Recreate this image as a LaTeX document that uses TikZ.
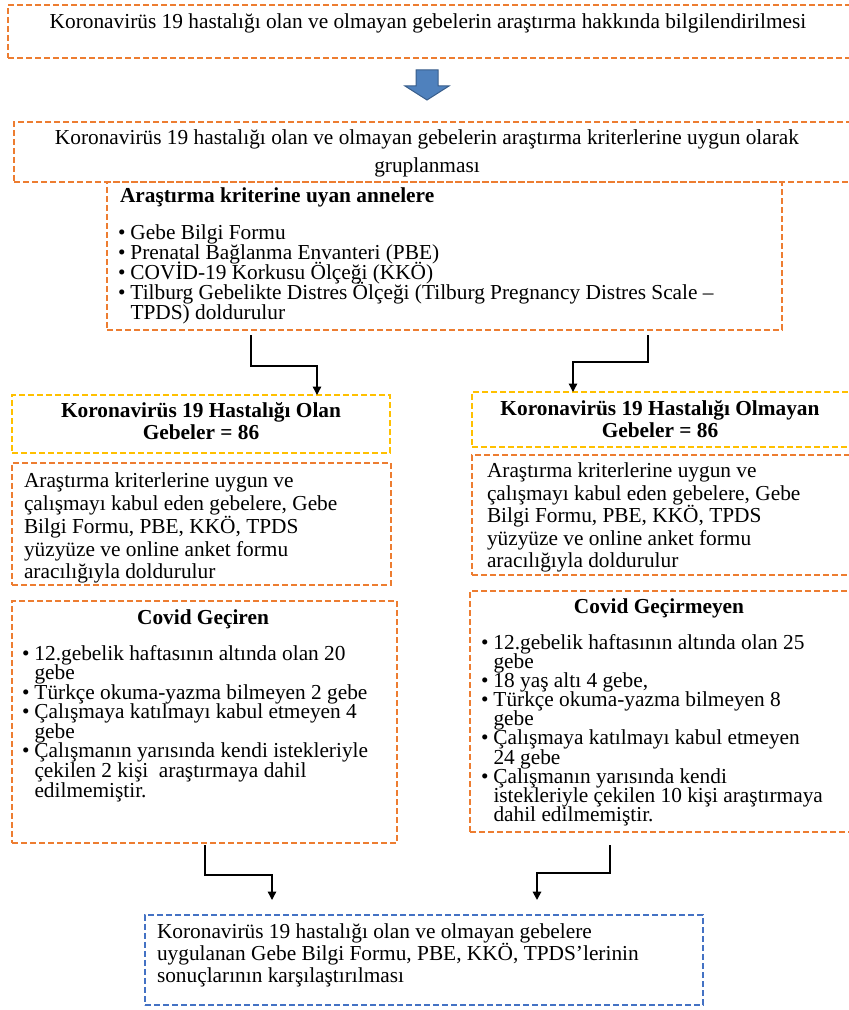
\documentclass[tikz,border=0pt]{standalone}
\usepackage{fontspec}
\setmainfont{Liberation Serif}
\usetikzlibrary{fit,arrows.meta}
\definecolor{oc}{RGB}{237,125,49}
\definecolor{yc}{RGB}{255,192,0}
\definecolor{bc}{RGB}{68,114,196}
\definecolor{af}{RGB}{79,129,189}
\definecolor{ad}{RGB}{56,93,138}
\newcommand\bl{\makebox[7.5pt][l]{•}}
\newcommand\ind{\hspace*{7.5pt}}
\newcommand\fsz[1]{\fontsize{12.8}{#1}\selectfont\lineskiplimit=-30pt\lineskip=0pt\relax}
\begin{document}
\begin{tikzpicture}[x=0.6pt,y=-0.6pt,
  boxbase/.style={rectangle,inner sep=0pt,outer sep=0pt,line width=0.9pt,dash pattern=on 3.6pt off 1.8pt},
  obox/.style={boxbase,draw=oc},
  ybox/.style={boxbase,draw=yc},
  bbox/.style={boxbase,draw=bc},
  txt/.style={inner sep=0pt,outer sep=0pt,font=\fsz{13.5}},
  conn/.style={draw=black,line width=0.8pt,-{Triangle[length=5pt,width=5pt]}}]
\useasboundingbox (0,0) rectangle (849,1010);
\clip (0,0) rectangle (849,1010);

% box 1
\node[obox,fit={(8,5) (853,58)}] (b1) {};
\node[txt,anchor=north] (t1) at (428,13) {\strut Koronavirüs 19 hastalığı olan ve olmayan gebelerin araştırma hakkında bilgilendirilmesi};

% block arrow
\filldraw[fill=af,draw=ad,line width=0.6pt] (416,70) -- (438,70) -- (438,86) -- (449,86) -- (427,100) -- (405,86) -- (416,86) -- cycle;

% box 2
\node[obox,fit={(14,122) (853,182)}] (b2) {};
\node[txt,anchor=north,align=center,font=\fsz{16.8}] (t2) at (427,125) {\strut Koronavirüs 19 hastalığı olan ve olmayan gebelerin araştırma kriterlerine uygun olarak\\gruplanması};

% box 3
\node[obox,fit={(107,182) (782,330)}] (b3) {};
\node[txt,anchor=north west] (t3a) at (120,187) {\strut\bfseries Araştırma kriterine uyan annelere};
\node[txt,anchor=north west,align=left,font=\fsz{12}] (t3b) at (118,225) {\strut\bl Gebe Bilgi Formu\\
\bl Prenatal Bağlanma Envanteri (PBE)\\
\bl COVİD-19 Korkusu Ölçeği (KKÖ)\\
\bl Tilburg Gebelikte Distres Ölçeği (Tilburg Pregnancy Distres Scale –\\
\ind TPDS) doldurulur};

% yellow boxes
\node[ybox,fit={(12,395) (390,453)}] (yl) {};
\node[txt,anchor=north,align=center,font=\fsz{13.2}\bfseries] (tyl) at (201,402) {\strut Koronavirüs 19 Hastalığı Olan\\Gebeler = 86};
\node[ybox,fit={(472,392) (853,447)}] (yr) {};
\node[txt,anchor=north,align=center,font=\fsz{13.2}\bfseries] (tyr) at (660,400) {\strut Koronavirüs 19 Hastalığı Olmayan\\Gebeler = 86};

% connectors from box 3
\coordinate (s1) at (251,335);
\coordinate (m1) at (317,366);
\coordinate (s2) at (648,335);
\coordinate (m2) at (573,362);
\draw[conn] (s1) |- (m1) -- (m1 |- yl.north);
\draw[conn] (s2) |- (m2) -- (m2 |- yr.north);

% orange info boxes
\node[obox,fit={(12,463) (391,585)}] (ol) {};
\node[txt,anchor=north west,align=left,font=\fsz{13.65}] (tol) at (24,472) {\strut Araştırma kriterlerine uygun ve\\çalışmayı kabul eden gebelere, Gebe\\Bilgi Formu, PBE, KKÖ, TPDS\\yüzyüze ve online anket formu\\aracılığıyla doldurulur};
\node[obox,fit={(472,455) (853,575)}] (or) {};
\node[txt,anchor=north west,align=left,font=\fsz{13.5}] (tor) at (487,462) {\strut Araştırma kriterlerine uygun ve\\çalışmayı kabul eden gebelere, Gebe\\Bilgi Formu, PBE, KKÖ, TPDS\\yüzyüze ve online anket formu\\aracılığıyla doldurulur};

% covid boxes
\node[obox,fit={(12,601) (397,843)}] (cl) {};
\node[txt,anchor=north,font=\fsz{13.5}\bfseries] (tcl) at (203,609) {\strut Covid Geçiren};
\node[txt,anchor=north west,align=left,font=\fsz{11.75}] (lcl) at (22,645) {\strut\bl 12.gebelik haftasının altında olan 20\\
\ind gebe\\
\bl Türkçe okuma-yazma bilmeyen 2 gebe\\
\bl Çalışmaya katılmayı kabul etmeyen 4\\
\ind gebe\\
\bl Çalışmanın yarısında kendi istekleriyle\\
\ind çekilen 2 kişi\ \ araştırmaya dahil\\
\ind edilmemiştir.};
\node[obox,fit={(470,591) (853,832)}] (cr) {};
\node[txt,anchor=north,font=\fsz{13.5}\bfseries] (tcr) at (659,598) {\strut Covid Geçirmeyen};
\node[txt,anchor=north west,align=left,font=\fsz{11.5}] (lcr) at (481,634) {\strut\bl 12.gebelik haftasının altında olan 25\\
\ind gebe\\
\bl 18 yaş altı 4 gebe,\\
\bl Türkçe okuma-yazma bilmeyen 8\\
\ind gebe\\
\bl Çalışmaya katılmayı kabul etmeyen\\
\ind 24 gebe\\
\bl Çalışmanın yarısında kendi\\
\ind istekleriyle çekilen 10 kişi araştırmaya\\
\ind dahil edilmemiştir.};

% bottom box
\node[bbox,fit={(145,915) (703,1005)}] (bb) {};
\node[txt,anchor=north west,align=left,font=\fsz{13.2}] (tbb) at (157,923) {\strut Koronavirüs 19 hastalığı olan ve olmayan gebelere\\uygulanan Gebe Bilgi Formu, PBE, KKÖ, TPDS’lerinin\\sonuçlarının karşılaştırılması};

% bottom connectors
\coordinate (s3) at (205,845);
\coordinate (m3) at (272,875);
\coordinate (e3) at (272,900);
\coordinate (s4) at (610,845);
\coordinate (m4) at (537,873);
\coordinate (e4) at (537,900);
\draw[conn] (s3) |- (m3) -- (e3);
\draw[conn,line width=1.1pt] (s4) |- (m4) -- (e4);
\end{tikzpicture}
\end{document}
